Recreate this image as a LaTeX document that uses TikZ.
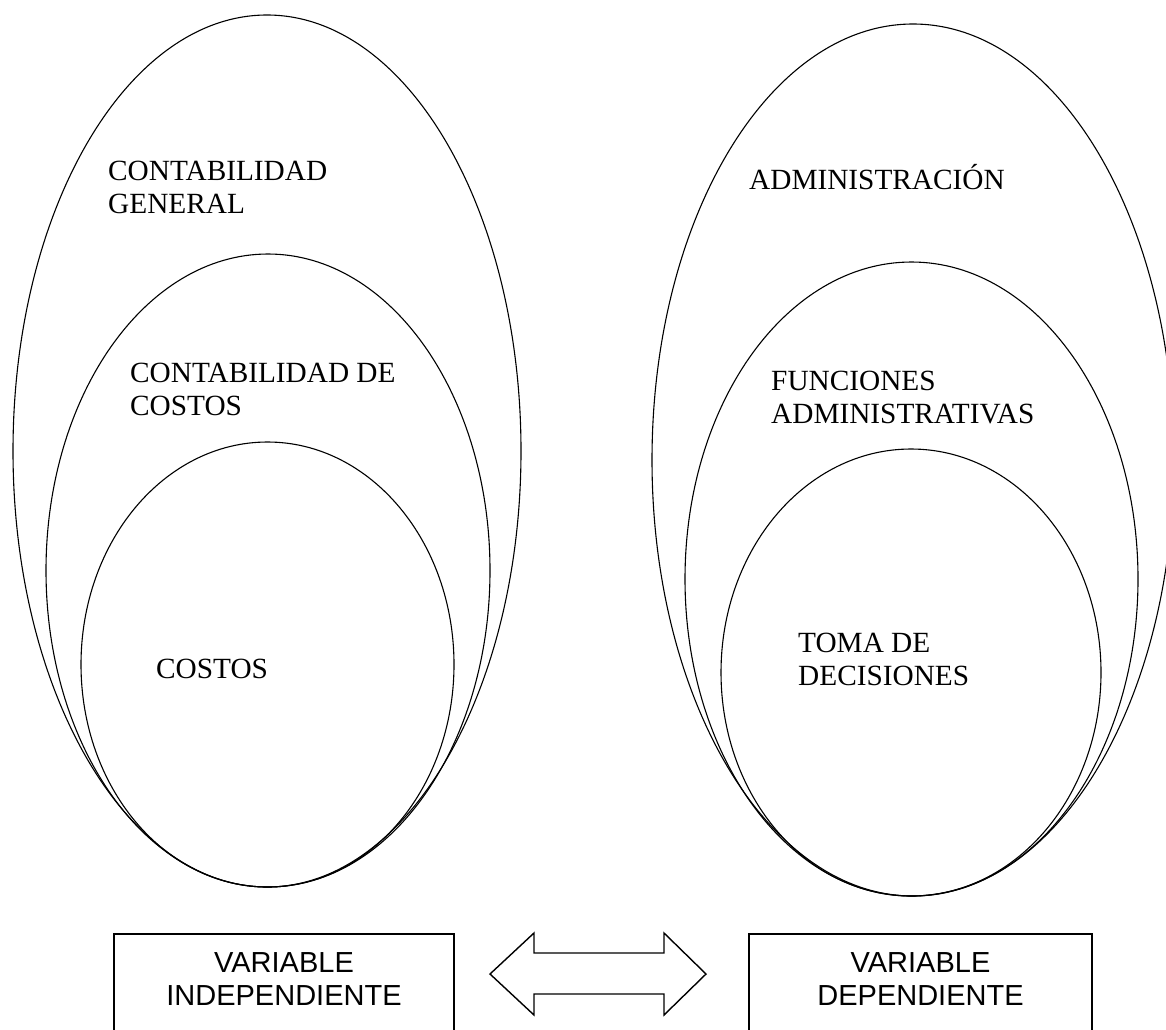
\documentclass[tikz,border=0pt]{standalone}
\usepackage{fontspec}
\setmainfont{Liberation Serif}
\newfontfamily\boxfont{Liberation Sans}
\usetikzlibrary{shapes.geometric}
% two left-aligned lines, baseline at the first line
\newcommand\twolines[2]{\begin{tabular}[t]{@{}l@{}}#1\\#2\end{tabular}}
% two centred lines, baseline at the first line
\newcommand\twocentred[2]{\begin{tabular}[t]{@{}c@{}}#1\\#2\end{tabular}}
\begin{document}
\begin{tikzpicture}[x=1pt,y=-1pt,
  ring/.style={draw, ellipse, line width=1.1pt, inner sep=0pt, outer sep=0pt},
  tag/.style={anchor=base west, inner sep=0pt, font=\fontsize{29.3pt}{33.5pt}\selectfont},
  varbox/.style={draw, line width=1.4pt, minimum height=100pt, inner sep=0pt,
    text depth=47pt, font=\boxfont\fontsize{29pt}{33pt}\selectfont},
  blockarrow/.style={draw, line width=1.4pt, line join=miter}]
\useasboundingbox (0,0) rectangle (1166,1029);
\fill[white] (0,0) rectangle (1166,1029);
\clip (0,0) rectangle (1166,1029);

% nested sets: accounting side
\node[ring, minimum width=508pt, minimum height=872pt] (cgen)  at (267,451)   {};
\node[ring, minimum width=444pt, minimum height=633pt] (ccost) at (268,570.5) {};
\node[ring, minimum width=373pt, minimum height=445pt] (cost)  at (267.5,664.5) {};

% nested sets: management side
\node[ring, minimum width=522pt, minimum height=872pt] (adm)  at (913,460)   {};
\node[ring, minimum width=453pt, minimum height=634pt] (fadm) at (911.5,579) {};
\node[ring, minimum width=380pt, minimum height=447pt] (toma) at (911,672.5) {};

% set labels
\node[tag] (tcgen)  at (108,180) {\twolines{CONTABILIDAD}{GENERAL}};
\node[tag] (tccost) at (130,382) {\twolines{CONTABILIDAD DE}{COSTOS}};
\node[tag] (tcost)  at (156,678) {COSTOS};
\node[tag] (tadm)   at (749,189) {ADMINISTRACIÓN};
\node[tag] (tfadm)  at (771,390) {\twolines{FUNCIONES}{ADMINISTRATIVAS}};
\node[tag] (ttoma)  at (798,652) {\twolines{TOMA DE}{DECISIONES}};

% variables (boxes run on below the lower edge)
\node[varbox, minimum width=340pt] (vind) at (284,984)
  {\twocentred{VARIABLE}{INDEPENDIENTE}};
\node[varbox, minimum width=343pt] (vdep) at (920.5,984)
  {\twocentred{VARIABLE}{DEPENDIENTE}};

% two-headed block arrow between the variables
\draw[blockarrow] (490,974) -- (534,933) -- (534,953) -- (664,953) -- (664,933)
  -- (706,974) -- (664,1015) -- (664,994) -- (534,994) -- (534,1015) -- cycle;
\end{tikzpicture}
\end{document}
